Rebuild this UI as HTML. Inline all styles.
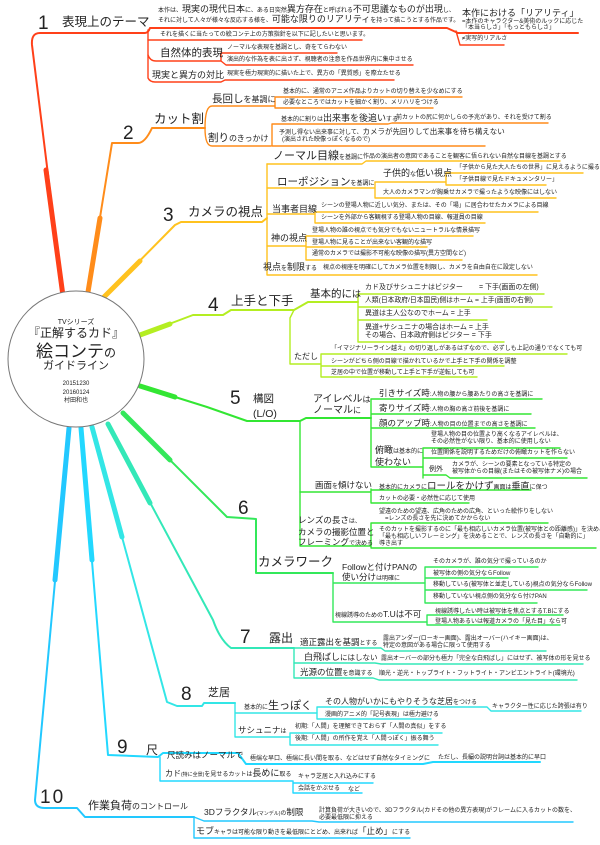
<!DOCTYPE html>
<html><head><meta charset="utf-8"><style>
body{margin:0;background:#fff;}
#w{position:relative;width:600px;height:845px;overflow:hidden;background:#fff;}
.t{position:absolute;white-space:nowrap;line-height:1;font-family:"Liberation Sans","Noto Sans CJK JP",sans-serif;color:#222;font-size:6px;}
.n{position:absolute;line-height:1;font-family:"Liberation Sans",sans-serif;font-size:19px;color:#222;}
.b{font-size:9px}.c{font-size:10.5px}.d{font-size:12.5px}.e{font-size:8px}
svg{position:absolute;left:0;top:0}
</style></head><body><div id="w">
<svg width="600" height="845" fill="none" stroke-linecap="round" stroke-linejoin="round">
<g stroke="#ff4019" stroke-width="1.4">
<path d="M63 296 L32 45 Q31 33 40 33 L145 33 Q148 33 150 28 L447 28 L458 33 L578 33" stroke-width="2"/>
<path d="M456 31 L460 45 L504 45"/>
<path d="M148 30 L148 78 Q150 82 155 82 L221 82 L225 80 L394 80"/>
<path d="M148 40 L362 40"/>
<path d="M148 55 Q150 61 156 61 L221 61 M221 61 L221 53 L337 53 M221 61 L226 65 L413 65"/>
</g>
<path d="M63 296 L46 170" stroke="#ff4019" stroke-width="5"/>
<g stroke="#ff8c1a" stroke-width="1.4">
<path d="M88 292 L112 143 L138 143 Q145 143 152 128 L205 128" stroke-width="2"/>
<path d="M205 128 Q205 106 212 106 L275 106 M205 128 Q205 146 212 146 L271 146"/>
<path d="M275 106 L275 97 L462 97 M275 106 L275 108 L433 108"/>
<path d="M272 146 L272 124 L388 124 L392 123 L548 123 M272 146 L485 146"/>
</g>
<path d="M88 292 L100 218" stroke="#ff8c1a" stroke-width="5"/>
<g stroke="#ffc21f" stroke-width="1.4">
<path d="M104 297 L175 225 L181 222 L262 222 L267 218" stroke-width="2"/>
<path d="M267 164 L267 275 L537 275"/>
<path d="M267 164 L362 164 L366 161 L560 161"/>
<path d="M267 188 L375 188 M375 182 L375 198 M375 182 L446 182 M446 173 L446 185 M446 173 L583 173 M446 185 L546 185 M375 198 L556 198"/>
<path d="M267 214 L315 214 M315 212 L315 223 M315 212 L538 212 M315 223 L485 223"/>
<path d="M267 246 L306 246 M306 236 L306 260 M306 236 L473 236 M306 247 L427 247 M306 260 L462 260"/>
</g>
<path d="M104 297 L140 261" stroke="#ffc21f" stroke-width="5"/>
<g stroke="#b4ee22" stroke-width="1.4">
<path d="M140 335 L193 315 L223 315 L231 310 L294 310 L308 302 L358 302" stroke-width="2"/>
<path d="M294 310 L290 318 L290 364 L321 364"/>
<path d="M358 294 L358 342 M358 294 L544 294 M358 307 L552 307 M358 320 L487 320 M358 342 L504 342"/>
<path d="M321 354 L321 377 M321 354 L567 354 M321 366 L504 366 M321 377 L477 377"/>
</g>
<path d="M140 335 L170 324" stroke="#b4ee22" stroke-width="5"/>
<g stroke="#33e633" stroke-width="1.4">
<path d="M140 386 L207 407 L247 421 L300 421 L306 418 L371 418" stroke-width="2"/>
<path d="M300 421 L300 546 L371 546"/>
<path d="M371 399 L371 467 M371 399 L542 399 M371 414 L531 414 M371 428 L535 428 M371 467 L423 467"/>
<path d="M423 448 L423 478 M423 448 L560 448 M423 458 L567 458 M423 475 L446 475 L450 478 L587 478"/>
<path d="M300 492 L371 492 M371 489 L371 503 M371 490 L531 490 M371 503 L469 503"/>
<path d="M371 523 L371 548 M371 523 L548 523 M371 548 L596 548"/>
</g>
<path d="M140 386 L175 397" stroke="#33e633" stroke-width="5"/>
<g stroke="#33e85a" stroke-width="1.4">
<path d="M123 413 L227 517 L256 519 L256 573 L333 573" stroke-width="2"/>
<path d="M333 573 L333 622 L427 622 M333 583 L425 583"/>
<path d="M425 567 L425 603 M425 567 L538 567 M425 578 L508 578 M425 590 L587 590 M425 603 L537 603"/>
<path d="M427 615 L427 625 M427 615 L563 615 M427 625 L560 625"/>
</g>
<path d="M123 413 L170 460" stroke="#33e85a" stroke-width="5"/>
<g stroke="#33e8b8" stroke-width="1.4">
<path d="M108 424 L213 620 Q220 640 231 648 L294 648" stroke-width="2"/>
<path d="M294 648 L294 678 L373 678 L379 680 L577 680"/>
<path d="M294 648 L381 648 L385 651 L546 651"/>
<path d="M294 663 L375 663 L381 664 L583 664"/>
</g>
<path d="M108 424 L150 503" stroke="#33e8b8" stroke-width="5"/>
<g stroke="#33e6e6" stroke-width="1.4">
<path d="M92 427 L167 702 L177 706 L202 706 L204 703 L235 703" stroke-width="2"/>
<path d="M235 703 L235 737 L290 737 M235 713 L317 713"/>
<path d="M317 707 L317 719 M317 707 L487 707 L491 711 L581 711 M317 719 L431 719"/>
<path d="M290 733 L290 745 M290 733 L442 733 M290 745 L438 745"/>
</g>
<path d="M92 427 L122 537" stroke="#33e6e6" stroke-width="5"/>
<g stroke="#22d8ff" stroke-width="1.4">
<path d="M81 428 L108 755 L158 757 L163 753 L238 753 L246 764 L423 764 L433 762 L540 762" stroke-width="2"/>
<path d="M160 757 L160 781 L292 781 M293 781 L293 793 M293 783 L373 783 M293 793 L362 793"/>
</g>
<path d="M81 428 L92 560" stroke="#22d8ff" stroke-width="5"/>
<g stroke="#22c8ff" stroke-width="1.4">
<path d="M69 428 L35 800 Q35 808 45 808 L77 808 L85 817 L194 817" stroke-width="2"/>
<path d="M194 817 L194 838 L410 838 M194 817 L204 821 L312 821 L319 822 L573 822"/>
</g>
<path d="M69 428 L55 580" stroke="#22c8ff" stroke-width="5"/>
<circle cx="76" cy="359" r="68" fill="#fff" stroke="#777" stroke-width="1"/>
</svg>

<div class="t" style="left:8px;width:136px;text-align:center;top:319px;font-size:7px">TVシリーズ</div>
<div class="t" style="left:8px;width:136px;text-align:center;top:327px;font-size:12px">『正解するカド』</div>
<div class="t" style="left:8px;width:136px;text-align:center;top:343px;font-size:17px">絵コンテ<span style="font-size:12px">の</span></div>
<div class="t" style="left:8px;width:136px;text-align:center;top:361px;font-size:11px">ガイドライン</div>
<div class="t" style="left:8px;width:136px;text-align:center;top:380px;font-size:6px;line-height:8.5px">20151230<br>20160124<br>村田和也</div>

<div class="n" style="left:38px;top:14px">1</div>
<div class="t d" style="left:62px;top:16px">表現上のテーマ</div>
<div class="t" style="left:158px;top:5px">本作は、<span class="b">現実の現代日本</span>に、ある日突然<span class="b">異方存在</span>と呼ばれる<span class="b">不可思議なものが出現</span>し、</div>
<div class="t" style="left:158px;top:15px">それに対して人々が様々な反応する様を、<span class="b">可能な限りのリアリティ</span>を持って描こうとする作品です。</div>
<div class="t b" style="left:462px;top:9px">本作における「リアリティ」</div>
<div class="t" style="left:462px;top:19px">=本作のキャラクター&amp;美術のルックに応じた</div>
<div class="t" style="left:462px;top:25px">「本当らしさ」「もっともらしさ」</div>
<div class="t" style="left:462px;top:36px">≠実写的リアルさ</div>
<div class="t" style="left:160px;top:32px">それを描くに当たっての絵コンテ上の方策指針を以下に記したいと思います。</div>
<div class="t c" style="left:160px;top:48px">自然体的表現</div>
<div class="t" style="left:227px;top:45px">ノーマルな表現を基調とし、奇をてらわない</div>
<div class="t" style="left:227px;top:57px">演出的な作為を表に出さず、視聴者の注意を作品世界内に集中させる</div>
<div class="t b" style="left:152px;top:71px">現実と異方の対比</div>
<div class="t" style="left:227px;top:71px">現実を極力現実的に描いた上で、異方の「異質感」を際立たせる</div>

<div class="n" style="left:123px;top:124px">2</div>
<div class="t d" style="left:154px;top:113px">カット割</div>
<div class="t e" style="left:212px;top:94px"><span class="c">長回し</span>を基調に</div>
<div class="t" style="left:283px;top:89px">基本的に、通常のアニメ作品よりカットの切り替えを少なめにする</div>
<div class="t" style="left:283px;top:100px">必要なところではカットを細かく割り、メリハリをつける</div>
<div class="t e" style="left:208px;top:133px"><span class="c">割り</span>のきっかけ</div>
<div class="t" style="left:281px;top:114px">基本的に割りは<span style="font-size:9px">出来事を後追い</span>する</div>
<div class="t" style="left:396px;top:115px">前カットの尻に何かしらの予兆があり、それを受けて割る</div>
<div class="t" style="left:279px;top:128px">予測し得ない出来事に対して、<span style="font-size:7.5px">カメラが先回りして出来事を待ち構えない</span></div>
<div class="t" style="left:282px;top:137px">(演出された映像っぽくなるので)</div>

<div class="n" style="left:163px;top:206px">3</div>
<div class="t d" style="left:188px;top:206px">カメラの視点</div>
<div class="t" style="left:273px;top:151px"><span style="font-size:11px">ノーマル目線</span>を基調に</div>
<div class="t" style="left:363px;top:154px">作品の演出者の意図であることを観客に悟られない自然な目線を基調とする</div>
<div class="t" style="left:277px;top:177px"><span style="font-size:10.5px">ローポジション</span>を基調に</div>
<div class="t" style="left:383px;top:169px"><span class="b">子供的</span>な<span class="b">低い視点</span></div>
<div class="t" style="left:456px;top:165px">「子供から見た大人たちの世界」に見えるように撮る</div>
<div class="t" style="left:456px;top:177px">「子供目線で見たドキュメンタリー」</div>
<div class="t" style="left:383px;top:190px">大人のカメラマンが胸乗せカメラで撮ったような映像にはしない</div>
<div class="t b" style="left:272px;top:205px">当事者目線</div>
<div class="t" style="left:321px;top:203px">シーンの登場人物に近しい気分、または、その「場」に居合わせたカメラによる目線</div>
<div class="t" style="left:321px;top:215px">シーンを外部から客観視する登場人物の目線、報道員の目線</div>
<div class="t b" style="left:271px;top:234px">神の視点</div>
<div class="t" style="left:312px;top:228px">登場人物の誰の視点でも気分でもないニュートラルな情景描写</div>
<div class="t" style="left:312px;top:240px">登場人物に見ることが出来ない客観的な描写</div>
<div class="t" style="left:312px;top:251px">通常のカメラでは撮影不可能な映像の描写(異方空間など)</div>
<div class="t" style="left:263px;top:263px"><span class="b">視点</span>を<span class="b">制限</span>する</div>
<div class="t" style="left:323px;top:265px">視点の視座を明確にしてカメラ位置を制限し、カメラを自由自在に設定しない</div>

<div class="n" style="left:208px;top:296px">4</div>
<div class="t d" style="left:231px;top:295px">上手と下手</div>
<div class="t b" style="left:310px;top:289px"><span class="c">基本的に</span>は</div>
<div class="t" style="left:365px;top:284px;font-size:7px">カド及びサシュニナはビジター</div>
<div class="t" style="left:479px;top:284px;font-size:7px">= 下手(画面の左側)</div>
<div class="t" style="left:365px;top:298px;font-size:6.8px">人類(日本政府/日本国民)側はホーム = 上手(画面の右側)</div>
<div class="t" style="left:365px;top:310px;font-size:7px">異道は主人公なのでホーム = 上手</div>
<div class="t" style="left:365px;top:324px;font-size:7px">異道+サシュニナの場合はホーム = 上手</div>
<div class="t" style="left:365px;top:332px;font-size:7px">その場合、日本政府側はビジター = 下手</div>
<div class="t e" style="left:294px;top:353px">ただし</div>
<div class="t" style="left:331px;top:346px">「イマジナリーライン越え」の切り返しがあるはずなので、必ずしも上記の通りでなくても可</div>
<div class="t" style="left:331px;top:359px">シーンがどちら側の目線で描かれているかで上手と下手の関係を調整</div>
<div class="t" style="left:331px;top:370px">芝居の中で位置が移動して上手と下手が逆転しても可</div>

<div class="n" style="left:230px;top:389px">5</div>
<div class="t c" style="left:253px;top:392px;line-height:15px">構図<br>(L/O)</div>
<div class="t" style="left:313px;top:394px;font-size:10px;line-height:11px">アイレベル<span class="e">は</span><br>ノーマル<span class="e">に</span></div>
<div class="t" style="left:379px;top:389px"><span style="font-size:8.5px">引きサイズ時</span>:人物の腰から腰あたりの高さを基調に</div>
<div class="t" style="left:379px;top:404px"><span style="font-size:8.5px">寄りサイズ時</span>:人物の胸の高さ前後を基調に</div>
<div class="t" style="left:379px;top:419px"><span style="font-size:8.5px">顔のアップ時</span>:人物の目の位置までの高さを基調に</div>
<div class="t" style="left:375px;top:445px;line-height:10px"><span class="b">俯瞰</span>は基本的に<br><span class="b">使わない</span></div>
<div class="t" style="left:431px;top:432px;line-height:7px">登場人物の目の位置より高くなるアイレベルは、<br>その必然性がない限り、基本的に使用しない</div>
<div class="t" style="left:431px;top:450px">位置関係を説明するためだけの俯瞰カットを作らない</div>
<div class="t" style="left:429px;top:466px;font-size:7px">例外</div>
<div class="t" style="left:452px;top:462px;line-height:7px">カメラが、シーンの要素となっている特定の<br>被写体からの目線(またはその被写体ナメ)の場合</div>
<div class="t" style="left:315px;top:481px"><span style="font-size:8.5px">画面</span>を<span style="font-size:8.5px">傾けない</span></div>
<div class="t" style="left:379px;top:482px">基本的にカメラに<span style="font-size:9.5px">ロールをかけず</span>画面は<span class="b">垂直</span>に保つ</div>
<div class="t" style="left:379px;top:496px">カットの必要・必然性に応じて使用</div>
<div class="t" style="left:298px;top:515px;line-height:10px;font-size:8.5px">レンズの長さ<span style="font-size:6px">は、</span><br>カメラの撮影位置と<br>フレーミング<span style="font-size:6px">で決める</span></div>
<div class="t" style="left:379px;top:509px;line-height:7px">望遠のための望遠、広角のための広角、といった絵作りをしない<br>　=レンズの長さを先に決めてかからない</div>
<div class="t" style="left:379px;top:527px;line-height:6.8px">そのカットを撮影するのに「最も相応しいカメラ位置(被写体との距離感)」を決め、<br>「最も相応しいフレーミング」を決めることで、レンズの長さを「自動的に」<br>導き出す</div>

<div class="n" style="left:238px;top:499px">6</div>
<div class="t d" style="left:258px;top:556px">カメラワーク</div>
<div class="t" style="left:342px;top:562px;line-height:10px;font-size:8.5px">Followと付けPANの<br>使い分け<span style="font-size:6px">は明確に</span></div>
<div class="t" style="left:433px;top:559px">そのカメラが、誰の気分で撮っているのか</div>
<div class="t" style="left:433px;top:571px">被写体の側の気分ならFollow</div>
<div class="t" style="left:433px;top:582px">移動している(被写体と並走している)視点の気分ならFollow</div>
<div class="t" style="left:433px;top:594px">移動していない視点側の気分なら付けPAN</div>
<div class="t" style="left:335px;top:610px">視線誘導のための<span style="font-size:8.5px">T.Uは不可</span></div>
<div class="t" style="left:435px;top:609px">視線誘導したい時は被写体を焦点とするT.Bにする</div>
<div class="t" style="left:435px;top:619px">登場人物あるいは報道カメラの「見た目」なら可</div>

<div class="n" style="left:240px;top:628px">7</div>
<div class="t" style="left:269px;top:632px;font-size:12px">露出</div>
<div class="t" style="left:300px;top:638px"><span style="font-size:8.5px">適正露出を基調</span>とする</div>
<div class="t" style="left:383px;top:636px;line-height:7px">露出アンダー(ローキー画面)、露出オーバー(ハイキー画面)は、<br>特定の意図がある場合に限って使用する</div>
<div class="t" style="left:304px;top:653px"><span class="b">白飛ばし</span><span style="font-size:7.5px">にはしない</span></div>
<div class="t" style="left:381px;top:656px">露出オーバーの部分も極力「完全な白飛ばし」にはせず、被写体の形を見せる</div>
<div class="t" style="left:300px;top:668px"><span style="font-size:8.5px">光源の位置</span>を意識する</div>
<div class="t" style="left:379px;top:671px">順光・逆光・トップライト・フットライト・アンビエントライト(環境光)</div>

<div class="n" style="left:181px;top:685px">8</div>
<div class="t" style="left:208px;top:688px;font-size:11px">芝居</div>
<div class="t" style="left:244px;top:701px">基本的に<span style="font-size:11px">生っぽく</span></div>
<div class="t" style="left:325px;top:698px"><span style="font-size:8px">その人物がいかにもやりそうな芝居</span>をつける</div>
<div class="t" style="left:492px;top:704px">キャラクター性に応じた誇張は有り</div>
<div class="t" style="left:325px;top:712px">漫画的アニメ的「記号表現」は極力避ける</div>
<div class="t" style="left:238px;top:726px"><span style="font-size:8.5px">サシュニナ</span>は</div>
<div class="t" style="left:295px;top:724px">初期:「人間」を理解できておらず「人間の真似」をする</div>
<div class="t" style="left:295px;top:736px">後期:「人間」の所作を覚え「人間っぽく」振る舞う</div>

<div class="n" style="left:117px;top:738px">9</div>
<div class="t" style="left:146px;top:744px;font-size:12px">尺</div>
<div class="t" style="left:167px;top:751px;font-size:8.5px">尺読みはノーマルで</div>
<div class="t" style="left:250px;top:756px">極端な早口、極端に長い間を取る、などはせず自然なタイミングに</div>
<div class="t" style="left:438px;top:755px">ただし、長編の説明台詞は基本的に早口</div>
<div class="t" style="left:165px;top:769px"><span class="e">カド</span><span style="font-size:5px">(特に全景)</span>を見せるカットは<span class="b">長めに</span>取る</div>
<div class="t" style="left:298px;top:774px">キャラ芝居と入れ込みにする</div>
<div class="t" style="left:298px;top:786px">会話をかぶせる</div>
<div class="t" style="left:348px;top:787px">など</div>

<div class="n" style="left:40px;top:788px;letter-spacing:2px">10</div>
<div class="t e" style="left:88px;top:801px"><span style="font-size:11px">作業負荷</span>のコントロール</div>
<div class="t" style="left:204px;top:808px"><span style="font-size:8.5px">3Dフラクタル</span><span style="font-size:5px">(マンデル)</span>の<span style="font-size:8.5px">制限</span></div>
<div class="t" style="left:319px;top:808px;line-height:6.5px">計算負荷が大きいので、3Dフラクタル(カドその他の異方表現)がフレームに入るカットの数を、<br>必要最低限に抑える</div>
<div class="t" style="left:196px;top:827px"><span class="b">モブ</span>キャラは可能な限り動きを最低限にとどめ、出来れば<span style="font-size:8.5px">「止め」</span>にする</div>
</div></body></html>
